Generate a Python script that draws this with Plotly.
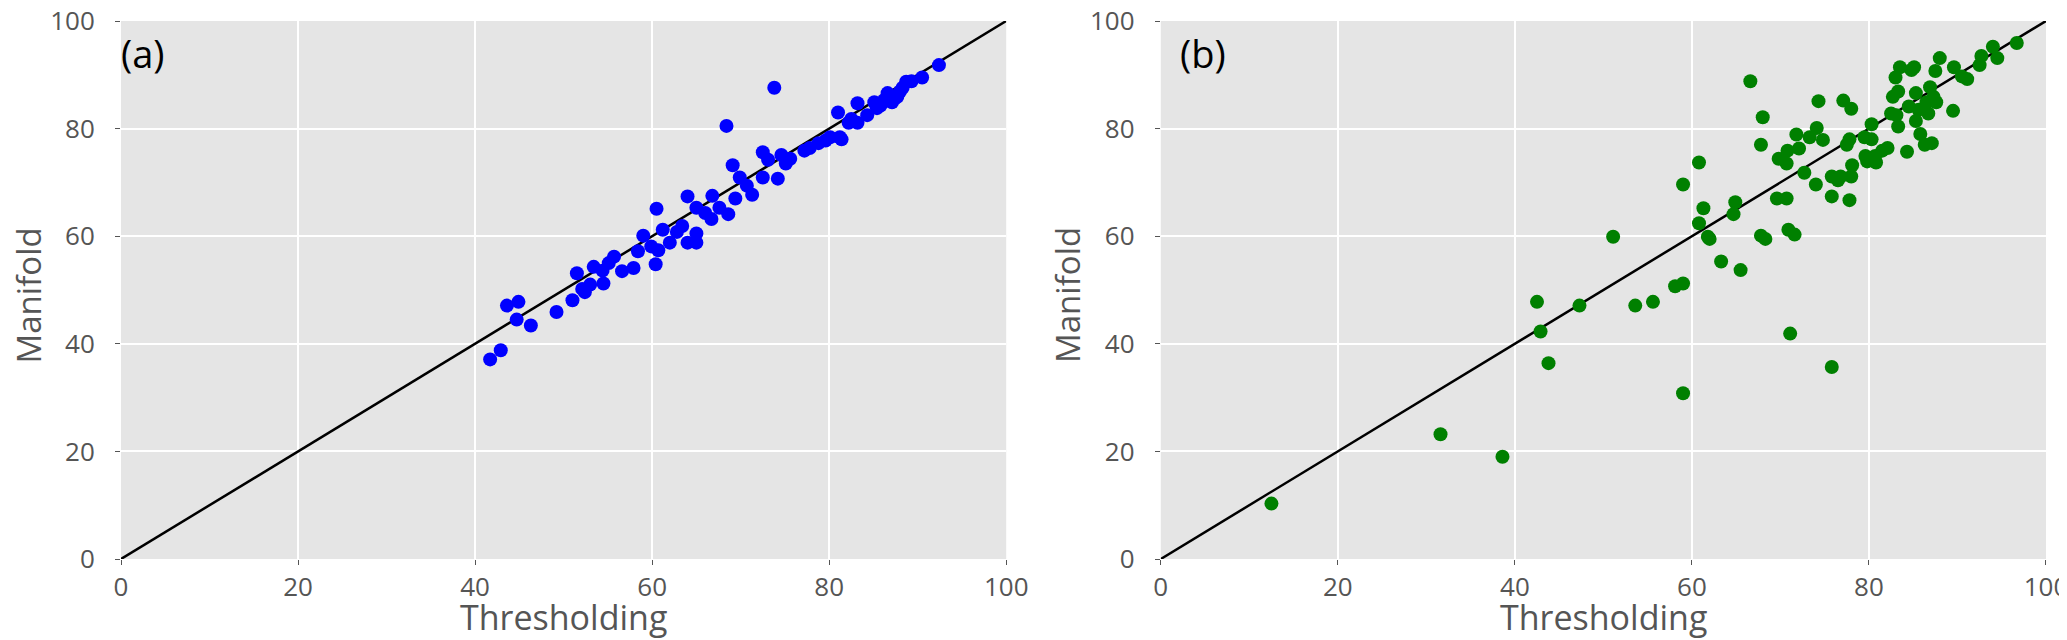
from plotly.subplots import make_subplots
import plotly.graph_objects as go

# panel (a): thresholding vs manifold, close agreement
thr_a = [41.7, 42.9, 43.6, 44.9, 44.7, 46.3, 49.2, 51.0, 51.5, 52.1, 52.4, 53.0, 53.4, 54.5,
         54.4, 55.1, 55.7, 56.6, 57.9, 58.4, 59.0, 59.9, 60.5, 60.4, 60.7, 61.2, 62.0, 62.8,
         63.4, 64.0, 64.0, 65.0, 65.0, 65.0, 66.0, 66.7, 66.8, 67.6, 68.6, 68.4, 69.1, 69.4,
         69.9, 70.7, 71.3, 72.5, 72.5, 73.1, 73.8, 74.2, 74.6, 75.1, 75.6, 77.2, 77.8, 78.8,
         79.6, 80.1, 81.2, 81.0, 81.4, 82.2, 82.5, 83.2, 83.2, 84.3, 85.1, 85.4, 85.8, 86.2,
         86.6, 87.1, 87.4, 87.7, 88.0, 88.3, 88.7, 89.3, 90.5, 92.4]
man_a = [37.1, 38.8, 47.1, 47.8, 44.5, 43.4, 45.9, 48.1, 53.1, 50.2, 49.6, 51.0, 54.3, 51.2,
         53.6, 55.0, 56.2, 53.5, 54.1, 57.2, 60.1, 58.1, 65.1, 54.8, 57.4, 61.2, 58.8, 60.8,
         61.9, 67.4, 58.8, 60.5, 58.8, 65.3, 64.3, 63.2, 67.5, 65.3, 64.1, 80.5, 73.2, 67.0,
         70.9, 69.4, 67.7, 75.6, 70.9, 74.2, 87.6, 70.7, 75.1, 73.5, 74.4, 75.9, 76.4, 77.3,
         77.8, 78.4, 78.4, 83.0, 78.0, 81.1, 81.8, 84.7, 81.1, 82.5, 84.9, 83.8, 84.3, 85.3,
         86.6, 84.9, 85.6, 85.9, 86.9, 87.6, 88.7, 88.8, 89.5, 91.8]

# panel (b): more scatter
thr_b = [12.5, 31.6, 38.6, 42.5, 42.9, 43.8, 47.3, 51.1, 53.6, 55.6, 58.1, 59.0, 59.0, 59.0,
         60.8, 60.8, 61.3, 61.8, 62.0, 63.3, 64.7, 64.9, 65.5, 66.6, 67.8, 68.0, 67.8, 68.3,
         69.6, 69.8, 70.7, 70.7, 70.8, 70.9, 71.6, 71.1, 71.8, 72.1, 72.7, 73.3, 74.0, 74.1,
         74.3, 74.8, 75.8, 75.8, 75.8, 76.5, 76.8, 77.1, 77.5, 77.8, 78.0, 78.0, 78.1, 77.8,
         79.5, 79.6, 79.8, 80.3, 80.3, 80.7, 80.8, 81.5, 82.1, 82.5, 82.7, 83.0, 83.3, 83.3,
         83.1, 83.5, 84.3, 84.5, 84.8, 85.1, 85.3, 85.3, 85.6, 85.8, 86.3, 86.5, 86.7, 86.9,
         87.1, 87.3, 87.5, 87.6, 88.0, 89.5, 89.6, 90.5, 91.1, 92.5, 92.7, 94.0, 94.5, 96.7]
man_b = [10.3, 23.2, 19.0, 47.8, 42.3, 36.4, 47.1, 59.9, 47.1, 47.8, 50.7, 51.2, 30.8, 69.6,
         73.7, 62.4, 65.2, 59.9, 59.5, 55.3, 64.1, 66.3, 53.7, 88.8, 77.0, 82.1, 60.1, 59.5,
         67.0, 74.4, 73.5, 67.0, 75.9, 61.2, 60.3, 41.9, 78.9, 76.3, 71.8, 78.4, 69.6, 80.1,
         85.1, 77.9, 67.4, 71.1, 35.7, 70.4, 71.1, 85.2, 77.0, 66.7, 83.7, 71.1, 73.2, 78.0,
         78.4, 74.9, 73.9, 80.8, 78.0, 74.9, 73.7, 75.9, 76.4, 82.8, 85.9, 89.5, 86.9, 80.4,
         82.5, 91.4, 75.7, 84.1, 90.9, 91.4, 86.6, 81.4, 83.5, 79.0, 77.0, 84.9, 82.8, 87.7,
         77.3, 85.9, 90.7, 84.9, 93.1, 83.3, 91.4, 89.7, 89.2, 91.8, 93.5, 95.2, 93.1, 95.9]

ticks = [0, 20, 40, 60, 80, 100]
diag = [0, 100]

GREY = "#555555"
FONT = "Open Sans"

fig = make_subplots(rows=1, cols=2, horizontal_spacing=0.0803)

panels = [(thr_a, man_a, "#0000ff"), (thr_b, man_b, "#008000")]
for i, (x, y, color) in enumerate(panels):
    col = i + 1
    fig.add_trace(
        go.Scatter(x=diag, y=diag, mode="lines", line=dict(color="black", width=2.5),
                   showlegend=False, hoverinfo="skip"),
        row=1, col=col
    )
    fig.add_trace(
        go.Scatter(x=x, y=y, mode="markers",
                   marker=dict(color=color, size=14, line_width=0),
                   showlegend=False),
        row=1, col=col
    )

fig.update_xaxes(range=[0, 100], tickvals=ticks, showgrid=True, gridcolor="white", gridwidth=2,
                 zeroline=False, showline=False, ticks="outside", ticklen=5, tickcolor=GREY,
                 tickwidth=1, ticklabelstandoff=0, ticklabeloverflow="allow",
                 tickfont=dict(size=26, color=GREY, family=FONT), automargin=False)
fig.update_yaxes(range=[0, 100], tickvals=ticks, showgrid=True, gridcolor="white", gridwidth=2,
                 zeroline=False, showline=False, ticks="outside", ticklen=5, tickcolor=GREY,
                 tickwidth=1, ticklabelstandoff=15, ticklabeloverflow="allow",
                 tickfont=dict(size=26, color=GREY, family=FONT), automargin=False)

# axis titles as paper annotations (domains: a=[0, 0.4598], b=[0.5402, 1])
title_font = dict(size=34, color=GREY, family=FONT)
ytitle_font = dict(size=33, color=GREY, family=FONT)
for xc, yc in [(0.2299, -0.0483), (0.7701, 0.4917)]:
    fig.add_annotation(x=xc, y=-0.108, xref="paper", yref="paper", text="Thresholding",
                       showarrow=False, xanchor="center", yanchor="middle", font=title_font)
    fig.add_annotation(x=yc, y=0.49, xref="paper", yref="paper", text="Manifold",
                       showarrow=False, xanchor="center", yanchor="middle", textangle=-90,
                       font=ytitle_font)

# panel letters
fig.add_annotation(x=0.4, y=99, xref="x", yref="y", text="(a)", showarrow=False, borderpad=0,
                   xshift=-5, xanchor="left", yanchor="top",
                   font=dict(size=38, color="black", family=FONT))
fig.add_annotation(x=2.6, y=99, xref="x2", yref="y2", text="(b)", showarrow=False, borderpad=0,
                   xshift=-5, xanchor="left", yanchor="top",
                   font=dict(size=38, color="black", family=FONT))

fig.update_layout(
    width=2067, height=640,
    margin=dict(l=113, r=29, t=13, b=89),
    plot_bgcolor="#e5e5e5",
    paper_bgcolor="white",
    font=dict(family=FONT),
)

fig.write_html("out.html")
